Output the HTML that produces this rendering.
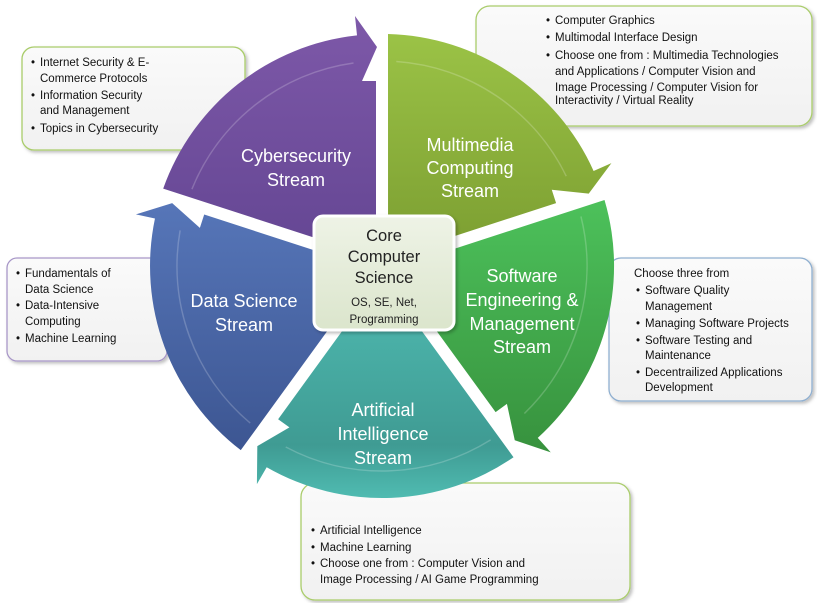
<!DOCTYPE html>
<html><head><meta charset="utf-8"><style>
html,body{margin:0;padding:0;background:#fff;}
svg{display:block;font-family:"Liberation Sans",sans-serif;}
.t{font-size:11.5px;fill:#111;}
.w{font-size:18px;fill:#fff;text-anchor:middle;}
</style></head><body>
<svg width="817" height="603" viewBox="0 0 817 603">
<defs>
<filter id="sh" x="-10%" y="-10%" width="130%" height="130%"><feDropShadow dx="2" dy="2" stdDeviation="1.5" flood-color="#000" flood-opacity="0.25"/></filter>
<linearGradient id="bx" x1="0" y1="0" x2="0" y2="1"><stop offset="0" stop-color="#fafafa"/><stop offset="1" stop-color="#f1f1f1"/></linearGradient>
<linearGradient id="cb" x1="0" y1="0" x2="0" y2="1"><stop offset="0" stop-color="#eef3e6"/><stop offset="1" stop-color="#dbe5cc"/></linearGradient>
<linearGradient id="gp" gradientUnits="userSpaceOnUse" x1="0" y1="-246" x2="0" y2="0"><stop offset="0" stop-color="#7d58a8"/><stop offset="1" stop-color="#634592"/></linearGradient>
<linearGradient id="gm" gradientUnits="userSpaceOnUse" gradientTransform="rotate(-72)" x1="0" y1="-240" x2="0" y2="0"><stop offset="0" stop-color="#9cc447"/><stop offset="1" stop-color="#7a9c30"/></linearGradient>
<linearGradient id="gs" gradientUnits="userSpaceOnUse" gradientTransform="rotate(-144)" x1="0" y1="-60" x2="0" y2="200"><stop offset="0" stop-color="#4cc05a"/><stop offset="1" stop-color="#368f3c"/></linearGradient>
<linearGradient id="ga" gradientUnits="userSpaceOnUse" gradientTransform="rotate(-216)" x1="0" y1="60" x2="0" y2="230"><stop offset="0" stop-color="#4bb2a9"/><stop offset="0.7" stop-color="#3f9b93"/><stop offset="1" stop-color="#4fbab0"/></linearGradient>
<linearGradient id="gd" gradientUnits="userSpaceOnUse" gradientTransform="rotate(-288)" x1="0" y1="-80" x2="0" y2="190"><stop offset="0" stop-color="#5878bb"/><stop offset="1" stop-color="#3c5591"/></linearGradient>
<g id="sec">
<path d="M -6,-8.3 L -218.8,-77.4 A 232 232 0 0 1 -25,-230.6 L -27,-250 L -5,-219 L -20,-185 L -6,-185 Z"/>
</g>
</defs>

<!-- callout boxes -->
<rect x="22" y="47" width="223" height="103" rx="12" fill="url(#bx)" stroke="#a9cc6a" stroke-width="1.3" filter="url(#sh)"/>
<rect x="476" y="6" width="336" height="120" rx="14" fill="url(#bx)" stroke="#a9cc6a" stroke-width="1.3" filter="url(#sh)"/>
<rect x="609" y="258" width="203" height="143" rx="12" fill="url(#bx)" stroke="#8fafd0" stroke-width="1.3" filter="url(#sh)"/>
<rect x="7" y="258" width="160" height="103" rx="10" fill="url(#bx)" stroke="#a897c8" stroke-width="1.3" filter="url(#sh)"/>
<rect x="301" y="483" width="329" height="117" rx="14" fill="url(#bx)" stroke="#a9cc6a" stroke-width="1.3" filter="url(#sh)"/>

<!-- wheel -->
<g transform="translate(382,266)">
<use href="#sec" fill="url(#gp)"/>
<g transform="rotate(72)"><use href="#sec" fill="url(#gm)"/></g>
<g transform="rotate(144)"><use href="#sec" fill="url(#gs)"/></g>
<g transform="rotate(216)"><use href="#sec" fill="url(#ga)"/></g>
<g transform="rotate(288)"><use href="#sec" fill="url(#gd)"/></g>
<g fill="none" stroke="#ffffff" stroke-opacity="0.2" stroke-width="1.5">
<path d="M -190.1,-76.8 A 205 205 0 0 1 -28.5,-203"/>
<path d="M -190.1,-76.8 A 205 205 0 0 1 -28.5,-203" transform="rotate(72)"/>
<path d="M -190.1,-76.8 A 205 205 0 0 1 -28.5,-203" transform="rotate(144)"/>
<path d="M -190.1,-76.8 A 205 205 0 0 1 -28.5,-203" transform="rotate(216)"/>
<path d="M -190.1,-76.8 A 205 205 0 0 1 -28.5,-203" transform="rotate(288)"/>
</g>
</g>

<text class="w" x="296" y="162">Cybersecurity</text>
<text class="w" x="296" y="186">Stream</text>
<text class="w" x="470" y="151">Multimedia</text>
<text class="w" x="470" y="174">Computing</text>
<text class="w" x="470" y="197">Stream</text>
<text class="w" x="522" y="282">Software</text>
<text class="w" x="522" y="306">Engineering &amp;</text>
<text class="w" x="522" y="330">Management</text>
<text class="w" x="522" y="353">Stream</text>
<text class="w" x="383" y="416">Artificial</text>
<text class="w" x="383" y="440">Intelligence</text>
<text class="w" x="383" y="464">Stream</text>
<text class="w" x="244" y="307">Data Science</text>
<text class="w" x="244" y="331">Stream</text>

<!-- center -->
<rect x="314" y="216" width="140" height="114" rx="9" fill="url(#cb)" stroke="#fff" stroke-width="3" filter="url(#sh)"/>
<g text-anchor="middle" fill="#222">
<text x="384" y="241" font-size="16.5">Core</text>
<text x="384" y="262" font-size="16.5">Computer</text>
<text x="384" y="283" font-size="16.5">Science</text>
<text x="384" y="306" font-size="11.5">OS, SE, Net,</text>
<text x="384" y="323" font-size="11.5">Programming</text>
</g>

<!-- texts -->
<g class="t">
<text x="31" y="66">•</text><text x="40" y="66">Internet Security &amp; E-</text>
<text x="40" y="82">Commerce Protocols</text>
<text x="31" y="99">•</text><text x="40" y="99">Information Security</text>
<text x="40" y="114">and Management</text>
<text x="31" y="132">•</text><text x="40" y="132">Topics in Cybersecurity</text>

<text x="546" y="24">•</text><text x="555" y="24">Computer Graphics</text>
<text x="546" y="41">•</text><text x="555" y="41">Multimodal Interface Design</text>
<text x="546" y="59">•</text><text x="555" y="59">Choose one from : Multimedia Technologies</text>
<text x="555" y="75">and Applications / Computer Vision and</text>
<text x="555" y="91">Image Processing / Computer Vision for</text>
<text x="555" y="104">Interactivity / Virtual Reality</text>

<text x="634" y="277">Choose three from</text>
<text x="636" y="294">•</text><text x="645" y="294">Software Quality</text>
<text x="645" y="310">Management</text>
<text x="636" y="327">•</text><text x="645" y="327">Managing Software Projects</text>
<text x="636" y="344">•</text><text x="645" y="344">Software Testing and</text>
<text x="645" y="359">Maintenance</text>
<text x="636" y="376">•</text><text x="645" y="376">Decentrailized Applications</text>
<text x="645" y="391">Development</text>

<text x="16" y="277">•</text><text x="25" y="277">Fundamentals of</text>
<text x="25" y="293">Data Science</text>
<text x="16" y="309">•</text><text x="25" y="309">Data-Intensive</text>
<text x="25" y="325">Computing</text>
<text x="16" y="342">•</text><text x="25" y="342">Machine Learning</text>

<text x="311" y="534">•</text><text x="320" y="534">Artificial Intelligence</text>
<text x="311" y="551">•</text><text x="320" y="551">Machine Learning</text>
<text x="311" y="567">•</text><text x="320" y="567">Choose one from : Computer Vision and</text>
<text x="320" y="583">Image Processing / AI Game Programming</text>
</g>
</svg>
</body></html>
